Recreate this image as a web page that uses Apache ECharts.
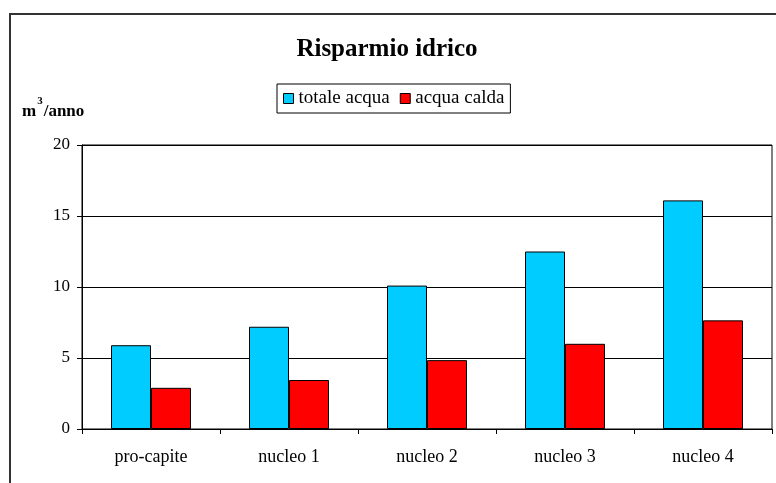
<!DOCTYPE html>
<html>
<head>
<meta charset="utf-8">
<script src="https://cdn.jsdelivr.net/npm/echarts@6/dist/echarts.min.js"></script>
<style>
  html, body { margin: 0; padding: 0; background: #fff; }
  #chart { width: 776px; height: 483px; }
</style>
</head>
<body>
<div id="chart"></div>
<script>
// Categories and values (m³/anno)
const categories = ['pro-capite', 'nucleo 1', 'nucleo 2', 'nucleo 3', 'nucleo 4'];
const totaleAcqua = [5.9, 7.2, 10.1, 12.5, 16.1];
const acquaCalda = [2.9, 3.45, 4.85, 6.0, 7.65];
const yTicks = [0, 5, 10, 15, 20];

const FONT = '"Liberation Serif", "Times New Roman", serif';

const chart = echarts.init(document.getElementById('chart'), null, { renderer: 'canvas' });

chart.setOption({
  backgroundColor: '#ffffff',
  animation: false,
  textStyle: { fontFamily: FONT, color: '#000' },
  title: {
    text: 'Risparmio idrico',
    left: 382,
    textAlign: 'center',
    top: 32,
    textStyle: { fontFamily: FONT, fontSize: 25, fontWeight: 'bold', color: '#000' }
  },
  legend: {
    left: 277,
    top: 84,
    padding: [5, 6, 5, 6],
    itemGap: 10,
    itemWidth: 10,
    itemHeight: 10,
    borderColor: '#000',
    borderWidth: 1,
    backgroundColor: '#fff',
    textStyle: { fontFamily: FONT, fontSize: 19, color: '#000', padding: [0, 0, 0, 0] },
    data: [
      { name: 'totale acqua', icon: 'rect', itemStyle: { borderColor: '#000', borderWidth: 1 } },
      { name: 'acqua calda', icon: 'rect', itemStyle: { borderColor: '#000', borderWidth: 1 } }
    ]
  },
  graphic: [
    {
      type: 'rect',
      shape: { x: 10, y: 14, width: 900, height: 600 },
      style: { fill: null, stroke: '#333', lineWidth: 2 },
      silent: true,
      z: -1
    },
    {
      type: 'text',
      left: 22,
      top: 96,
      style: {
        text: '{b|m}{s|3}{b|/anno}',
        rich: {
          b: { fontFamily: FONT, fontSize: 17, fontWeight: 'bold', color: '#000', verticalAlign: 'bottom', lineHeight: 24 },
          s: { fontFamily: FONT, fontSize: 11, fontWeight: 'bold', color: '#000', verticalAlign: 'top', lineHeight: 24, padding: [0, 1, 10, 1] }
        }
      }
    }
  ],
  grid: {
    left: 82,
    right: 4,
    top: 145,
    bottom: 54,
    show: true,
    borderColor: '#000',
    borderWidth: 1
  },
  xAxis: {
    type: 'category',
    data: categories,
    axisLine: { lineStyle: { color: '#000', width: 1 } },
    axisTick: { show: true, inside: false, length: 5, lineStyle: { color: '#000' } },
    axisLabel: { fontFamily: FONT, fontSize: 18, color: '#000', margin: 19 }
  },
  yAxis: {
    type: 'value',
    min: yTicks[0],
    max: yTicks[yTicks.length - 1],
    interval: yTicks[1] - yTicks[0],
    axisLine: { show: true, lineStyle: { color: '#000', width: 1 } },
    axisTick: { show: true, length: 5, lineStyle: { color: '#000' } },
    axisLabel: { fontFamily: FONT, fontSize: 17, color: '#000', margin: 12 },
    splitLine: { show: true, lineStyle: { color: '#000', width: 1 } }
  },
  series: [
    {
      name: 'totale acqua',
      type: 'bar',
      data: totaleAcqua,
      barWidth: 40,
      barGap: '0%',
      itemStyle: { color: '#00CCFF', borderColor: '#000', borderWidth: 1 }
    },
    {
      name: 'acqua calda',
      type: 'bar',
      data: acquaCalda,
      barWidth: 40,
      barGap: '0%',
      itemStyle: { color: '#FF0000', borderColor: '#000', borderWidth: 1 }
    }
  ]
});
</script>
</body>
</html>
